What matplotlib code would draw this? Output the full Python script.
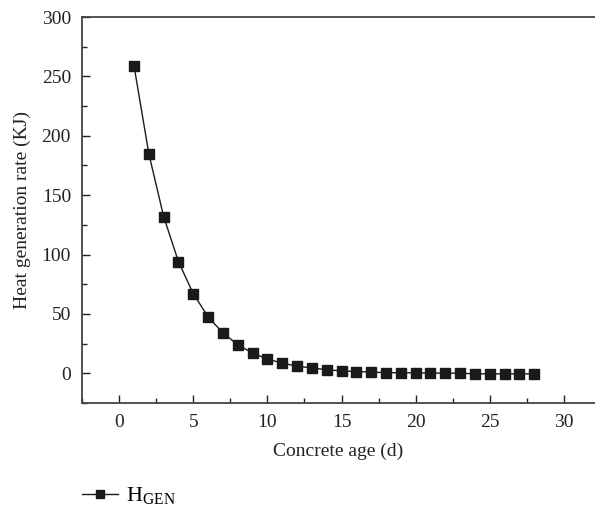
import matplotlib

matplotlib.use("Agg")
import matplotlib.pyplot as plt
from matplotlib.ticker import MultipleLocator

plt.rcParams["font.family"] = ["Liberation Serif", "DejaVu Serif"]
plt.rcParams["mathtext.fontset"] = "custom"
plt.rcParams["mathtext.rm"] = "Liberation Serif"

age_days = list(range(1, 29))
heat_rate = [259, 185, 132, 94, 67, 47.5, 34, 24, 17, 12, 8.5, 6, 4.5, 3,
             2, 1.5, 1, 0.5, 0.5, 0.3, 0.2, 0.1, 0.1, -0.5, -0.5, -0.5, -0.5, -0.5]

fig = plt.figure(figsize=(5.95, 5.09), dpi=100)
ax = fig.add_axes([0.138, 0.2083, 0.862, 0.7583])

ax.plot(age_days, heat_rate, color="#1a1a1a", linewidth=1.0, marker="s",
        markersize=7, markerfacecolor="#1a1a1a", markeredgecolor="#1a1a1a",
        label=r"H$_{\mathrm{GEN}}$")

ax.set_xlim(-2.5, 32.1)
ax.set_ylim(-25, 300)
ax.xaxis.set_major_locator(MultipleLocator(5))
ax.xaxis.set_minor_locator(MultipleLocator(2.5))
ax.yaxis.set_major_locator(MultipleLocator(50))
ax.yaxis.set_minor_locator(MultipleLocator(25))
ax.tick_params(which="both", direction="in", top=False, right=False,
               labelsize=14, colors="#222222", width=1.0)
ax.tick_params(which="major", length=6, pad=8)
ax.tick_params(which="minor", length=3.5)

for side in ("left", "bottom", "top"):
    ax.spines[side].set_color("#444444")
    ax.spines[side].set_linewidth(1.3)
ax.spines["right"].set_visible(False)

ax.set_xlabel("Concrete age (d)", fontsize=14, color="#222222", labelpad=8)
ax.set_ylabel("Heat generation rate (KJ)", fontsize=14, color="#222222", labelpad=8)

fig.legend(loc="lower left", bbox_to_anchor=(0.105, -0.036), frameon=False,
           fontsize=16, handlelength=1.6, handletextpad=0.35, markerscale=0.75)

fig.savefig("out.png", dpi=100)
